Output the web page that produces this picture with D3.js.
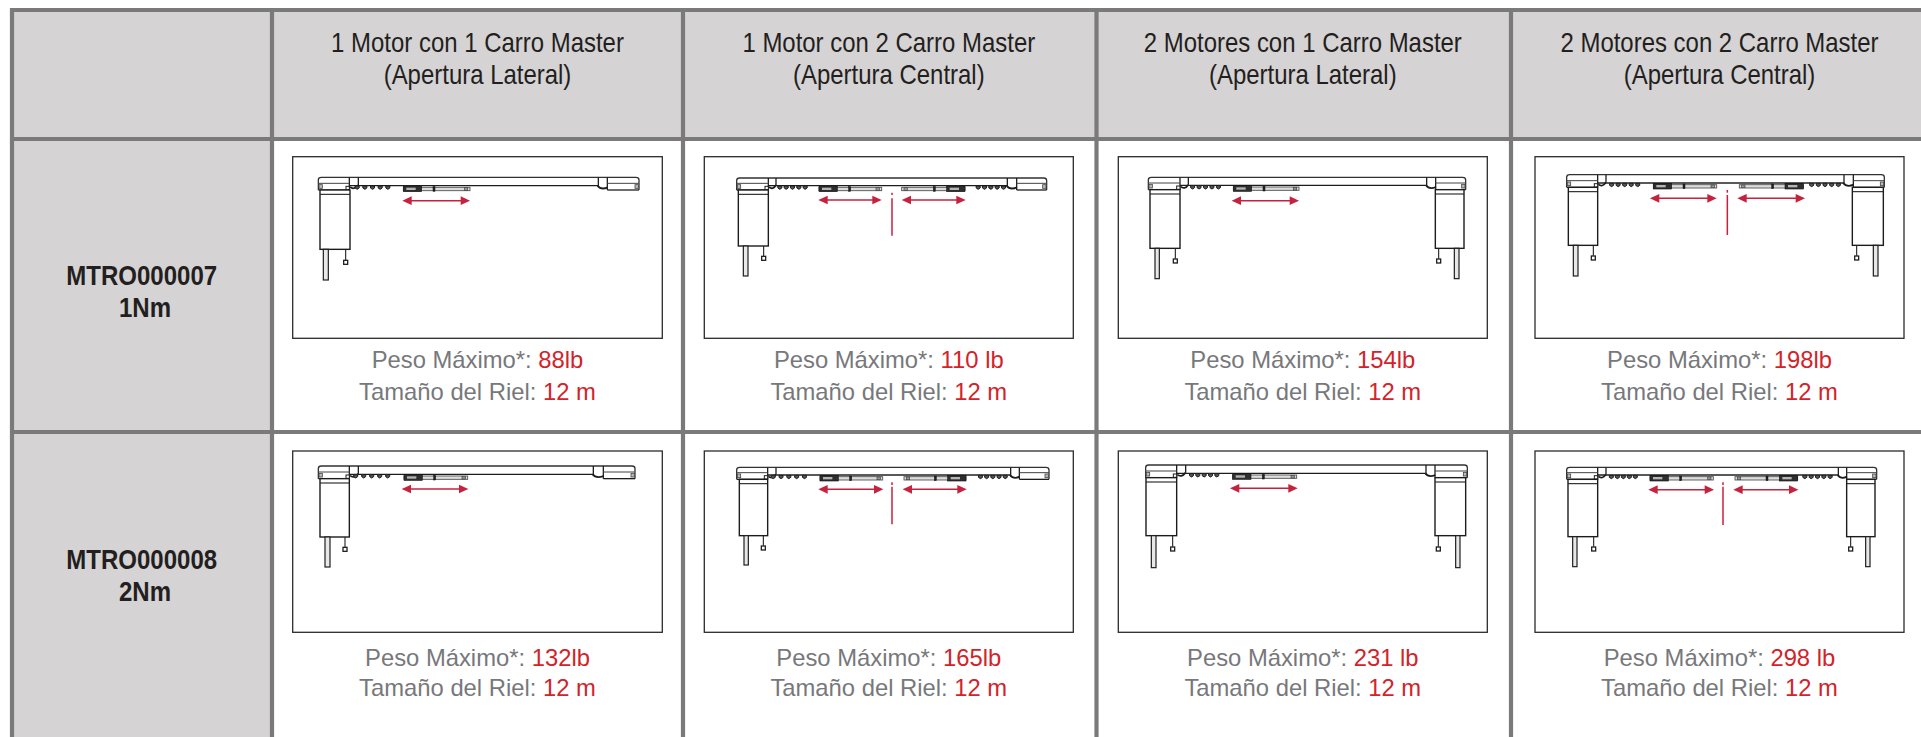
<!DOCTYPE html>
<html lang="es">
<head>
<meta charset="utf-8">
<title>Tabla de motores</title>
<script src="https://cdn.jsdelivr.net/npm/d3@7/dist/d3.min.js"></script>
<style>
html,body{margin:0;padding:0;background:#fff;overflow:hidden}
svg{display:block}
text{font-family:"Liberation Sans",Arial,sans-serif}
</style>
</head>
<body>
<div id="chart"></div>
<script>
// ---- content ----
const columnLine1 = ["1 Motor con 1 Carro Master","1 Motor con 2 Carro Master","2 Motores con 1 Carro Master","2 Motores con 2 Carro Master"];
const columnLine2 = ["(Apertura Lateral)","(Apertura Central)","(Apertura Lateral)","(Apertura Central)"];
const rowCodes = ["MTRO000007","MTRO000008"];
const rowTorque = ["1Nm","2Nm"];
const weightLabel = "Peso Máximo*: ";
const railLabel = "Tamaño del Riel: ";
const weightsRow1 = ["88lb","110 lb","154lb","198lb"];
const weightsRow2 = ["132lb","165lb","231 lb","298 lb"];
const railsRow1 = ["12 m","12 m","12 m","12 m"];
const railsRow2 = ["12 m","12 m","12 m","12 m"];

// ---- layout, separate from the content ----
const W = 1921, H = 737;
const colIdx = d3.range(4), rowIdx = d3.range(2);
const vLine = d3.scaleOrdinal([0,1,2,3,4],[12,272,683,1096.5,1511]);
const hLine = d3.scaleOrdinal([0,1,2],[10,139,432]);
const boxX0 = d3.scaleOrdinal(colIdx,[292.7,704.3,1118.3,1535]);
const boxX1 = d3.scaleOrdinal(colIdx,[662.3,1073.3,1487.3,1904]);
const boxY0 = d3.scaleOrdinal(rowIdx,[156.7,451]);
const boxY1 = d3.scaleOrdinal(rowIdx,[338.3,632.3]);
const base1 = d3.scaleOrdinal(rowIdx,[368,665.5]);
const base2 = d3.scaleOrdinal(rowIdx,[399.6,696.4]);
const labelBase1 = d3.scaleOrdinal(rowIdx,[285,568.5]);
const labelBase2 = d3.scaleOrdinal(rowIdx,[316.5,600.5]);
const zoomOrigin = {x:[290,700,1100,1530], x2:[290,700,1110,1530], y:[150,445]};

// drawing geometry at 3x magnification
const rigs = [
 [ {rail:[85,1047,82,107],ml:[90,180,298],br:[178,205],rh:[925,952],tl:[100,115,390],cl:[167,337],beads:[[190,305]],car:[[340,540,1]],arr:[[337,540]],ay:152},
   {rail:[110,1040,84,107],ml:[115,205,288],br:[205,228],rh:[922,950],tl:[130,144,378],cl:[191,325],beads:[[230,325],[825,920]],car:[[357,545,1],[605,795,-1]],arr:[[355,545],[605,797]],ay:150,c:[576,128,135,145,257]},
   {rail:[145,1097,82,106],ml:[150,240,295],br:[240,265],rh:[980,1007],mr:[1006,1092],tl:[165,178,386],cl:[226,333],tr:[1063,1077],cr:[1016,333],beads:[[268,365]],car:[[400,597,1]],arr:[[395,597]],ay:152},
   {rail:[110,1063,74,99],ml:[115,203,286],br:[203,228],rh:[942,970],mr:[967,1060],tl:[130,144,378],cl:[190,324],tr:[1030,1044],cr:[980,324],beads:[[235,333],[835,935]],car:[[370,560,1],[628,820,-1]],arr:[[360,560],[622,825]],ay:145,c:[592,120,128,135,255]} ],
 [ {rail:[85,1035,63,88],ml:[90,178,276],br:[178,205],rh:[910,940],tl:[105,120,366],cl:[165,313],beads:[[185,305]],car:[[342,533,1]],arr:[[335,535]],ay:132},
   {rail:[110,1047,67,90],ml:[118,203,272],br:[203,228],rh:[932,958],tl:[132,145,360],cl:[190,309],beads:[[208,325],[832,925]],car:[[360,548,1],[612,798,-1]],arr:[[355,550],[608,800]],ay:133,c:[576,112,120,125,238]},
   {rail:[107,1072,60,85],ml:[108,200,272],br:[200,227],rh:[948,975],mr:[975,1067],tl:[124,138,368],cl:[188,312],tr:[1037,1050],cr:[985,312],beads:[[235,330]],car:[[368,560,1]],arr:[[360,563]],ay:130},
   {rail:[110,1040,67,90],ml:[114,203,275],br:[203,228],rh:[925,950],mr:[950,1035],tl:[128,141,365],cl:[191,312],tr:[1007,1020],cr:[962,312],beads:[[235,325],[815,910]],car:[[360,550,1],[615,803,-1]],arr:[[355,552],[610,805]],ay:134,c:[579,112,120,125,240]} ]
];

const INK = "#1f1f1f", RED = "#c5203e", GRID = "#7a7a7a", FILL = "#d5d3d4", GREY = "#77787b", TXTRED = "#d2232a", DARK = "#231f20";

const svg = d3.select("#chart").append("svg").attr("width",W).attr("height",H).attr("viewBox",`0 0 ${W} ${H}`);
svg.append("defs").append("filter").attr("id","soft").attr("filterUnits","userSpaceOnUse").attr("x",0).attr("y",0).attr("width",W).attr("height",H)
   .append("feGaussianBlur").attr("stdDeviation",0.42);
svg.append("rect").attr("width",W).attr("height",H).attr("fill","#fff");

// ---- table fills and rules ----
svg.append("rect").attr("x",vLine(0)).attr("y",hLine(0)).attr("width",W-vLine(0)).attr("height",hLine(1)-hLine(0)).attr("fill",FILL);
svg.append("rect").attr("x",vLine(0)).attr("y",hLine(0)).attr("width",vLine(1)-vLine(0)).attr("height",H-hLine(0)).attr("fill",FILL);
svg.append("g").selectAll("line").data([0,1,2,3,4]).join("line")
   .attr("x1",vLine).attr("x2",vLine).attr("y1",hLine(0)-2).attr("y2",H)
   .attr("stroke",GRID).attr("stroke-width",4.2);
svg.append("g").selectAll("line").data([0,1,2]).join("line")
   .attr("x1",vLine(0)-2).attr("x2",W).attr("y1",hLine).attr("y2",hLine)
   .attr("stroke",GRID).attr("stroke-width",4.2);

// ---- header text: tall, slightly condensed glyphs ----
const colCentre = i => (boxX0(i)+boxX1(i))/2;
const squeeze = (x,y,sx)=>`translate(${x},${y}) scale(${sx},1)`;
const head = svg.append("g").attr("text-anchor","middle").attr("fill",DARK).attr("font-size",27);
head.selectAll("text.a").data(columnLine1).join("text").attr("class","a").attr("transform",(d,i)=>squeeze(colCentre(i),51.9,.887)).text(d=>d);
head.selectAll("text.b").data(columnLine2).join("text").attr("class","b").attr("transform",(d,i)=>squeeze(colCentre(i),84,.887)).text(d=>d);

// ---- row labels ----
const rl = svg.append("g").attr("text-anchor","middle").attr("fill",DARK).attr("font-size",27).attr("font-weight","bold");
rl.selectAll("text.c").data(rowCodes).join("text").attr("class","c").attr("transform",(d,i)=>squeeze(141.7,labelBase1(i),.89)).text(d=>d);
rl.selectAll("text.t").data(rowTorque).join("text").attr("class","t").attr("transform",(d,i)=>squeeze(145,labelBase2(i),.89)).text(d=>d);

// ---- cell captions ----
const captions = (vals,rails,r)=>{
  const g = svg.append("g").attr("text-anchor","middle").attr("font-size",23.8).attr("fill",GREY);
  const a = g.selectAll("text.w").data(vals).join("text").attr("class","w").attr("x",(d,i)=>colCentre(i)).attr("y",base1(r));
  a.append("tspan").text(weightLabel);
  a.append("tspan").attr("fill",TXTRED).text(d=>d);
  const b = g.selectAll("text.r").data(rails).join("text").attr("class","r").attr("x",(d,i)=>colCentre(i)).attr("y",base2(r));
  b.append("tspan").text(railLabel);
  b.append("tspan").attr("fill",TXTRED).text(d=>d);
};
captions(weightsRow1,railsRow1,0);
captions(weightsRow2,railsRow2,1);

// ---- framed diagrams ----
rowIdx.forEach(r=>colIdx.forEach(c=>{
  svg.append("rect").attr("x",boxX0(c)).attr("y",boxY0(r)).attr("width",boxX1(c)-boxX0(c)).attr("height",boxY1(r)-boxY0(r))
     .attr("fill","#fff").attr("stroke","#2b2b2b").attr("stroke-width",1.3);
  const ox = (r===1?zoomOrigin.x2:zoomOrigin.x)[c], oy = zoomOrigin.y[r];
  const x = d3.scaleLinear().domain([0,3]).range([ox,ox+1]);
  const y = d3.scaleLinear().domain([0,3]).range([oy,oy+1]);
  drawRig(svg.append("g").attr("filter","url(#soft)"),rigs[r][c],x,y);
}));

function drawRig(g,k,x,y){
  const [L,R,T,B] = k.rail;
  const line = (a,b,c,d,w=1.3,col=INK)=>g.append("line").attr("x1",x(a)).attr("x2",x(b)).attr("y1",y(c)).attr("y2",y(d)).attr("stroke",col).attr("stroke-width",w);
  const box = (a,b,c,d,fill="#fff",w=1.3,col=INK)=>g.append("rect").attr("x",x(a)).attr("y",y(c)).attr("width",x(b)-x(a)).attr("height",y(d)-y(c)).attr("fill",fill).attr("stroke",col).attr("stroke-width",w);
  const hb = B+13;   // housing bottom
  // rail body with rounded ends
  const p = d3.path();
  p.moveTo(x(L),y(hb)); p.lineTo(x(L),y(T+8)); p.quadraticCurveTo(x(L),y(T),x(L+9),y(T));
  p.lineTo(x(R-9),y(T)); p.quadraticCurveTo(x(R),y(T),x(R),y(T+8)); p.lineTo(x(R),y(hb));
  g.append("path").attr("d",p.toString()).attr("fill","none").attr("stroke","#333").attr("stroke-width",1.3);
  line(k.br[0],k.rh[0],B,B,1.4);
  line(k.br[0],k.br[0],T,hb);
  line(k.br[1],k.br[1],T,B-2);
  line(k.rh[0],k.rh[0],T,B+4);
  line(k.rh[1],k.rh[1],T,hb);
  line(L,k.br[0],B-7,B-7,1,"#444");
  line(k.rh[1],R,B-7,B-7,1,"#444");
  line(L,k.br[0],hb,hb);
  line(k.rh[1],R,hb,hb);
  box(L+2,L+12,B-3,B+8,"#bbb",.8,"#444");
  box(k.br[0]-10,k.br[0],B+2,B+12,"#fff",1);
  g.append("path").attr("d",`M${x(k.br[0]+2)},${y(B+4)}Q${x(k.br[0]+14)},${y(B+14)} ${x(k.br[1])},${y(B-2)}`).attr("fill","none").attr("stroke",INK).attr("stroke-width",1.8);
  box(R-12,R-2,B-3,B+8,"#bbb",.8,"#444");
  g.append("path").attr("d",`M${x(k.rh[0]-2)},${y(B)}Q${x(k.rh[0]+8)},${y(B+14)} ${x(k.rh[1]+1)},${y(B+5)}`).attr("fill","none").attr("stroke",INK).attr("stroke-width",1.8);

  // motors, tubes and cords
  const motor = (a,b,bot)=>{ box(a,b,hb,bot,"#fff",1.4); line(a,b,B+26,B+26,1.1); };
  motor(k.ml[0],k.ml[1],k.ml[2]);
  const tube = (a,b,bot,top)=>box(a,b,top,bot,"#e8e8e8",1.2);
  tube(k.tl[0],k.tl[1],k.tl[2],k.ml[2]);
  line(k.cl[0],k.cl[0],k.ml[2],k.cl[1]-7,1.1);
  box(k.cl[0]-6,k.cl[0]+6,k.cl[1]-6,k.cl[1]+6,"#fff",1.3);
  if(k.mr){
    motor(k.mr[0],k.mr[1],k.ml[2]);
    tube(k.tr[0],k.tr[1],k.tl[2],k.ml[2]);
    line(k.cr[0],k.cr[0],k.ml[2],k.cr[1]-7,1.1);
    box(k.cr[0]-6,k.cr[0]+6,k.cr[1]-6,k.cr[1]+6,"#fff",1.3);
  }

  // runner beads
  k.beads.forEach(([a,b])=>{
    d3.range(5).forEach(i=>{
      const cx = a+ (b-a)*(i+.5)/5;
      g.append("path").attr("d",`M${x(cx-6)},${y(B+1)}V${y(B+7)}Q${x(cx)},${y(B+15)} ${x(cx+6)},${y(B+7)}V${y(B+1)}Z`)
       .attr("fill","#555").attr("stroke",INK).attr("stroke-width",1);
    });
  });

  // master carriages
  k.car.forEach(([a,b,dir])=>{
    const near = dir>0?a:b-55, span = 55;
    box(a,b,B+5,B+15,"#ddd",.9,"#555");
    box(near,near+span,B+1,B+18,"#2e2e2e",.6,"#111");
    g.append("rect").attr("x",x(near+9)).attr("y",y(B+6)).attr("width",x(28)-x(0)).attr("height",y(7)-y(0)).attr("fill","#b5b5b5");
    const tick = dir>0?a+92:b-92;
    box(tick-3,tick+3,B+3,B+17,"#222",.5,"#111");
    const end = dir>0?b-12:a+12;
    box(end-5,end+5,B+6,B+14,"#999",.7,"#444");
  });

  // travel arrows
  k.arr.forEach(([a,b])=>{
    line(a+20,b-20,k.ay,k.ay,1.5,RED);
    g.append("path").attr("fill",RED).attr("d",`M${x(a)},${y(k.ay)}L${x(a+28)},${y(k.ay-13)}V${y(k.ay+13)}Z`);
    g.append("path").attr("fill",RED).attr("d",`M${x(b)},${y(k.ay)}L${x(b-28)},${y(k.ay-13)}V${y(k.ay+13)}Z`);
  });

  // centre mark
  if(k.c){
    line(k.c[0],k.c[0],k.c[1],k.c[2],1.5,RED);
    line(k.c[0],k.c[0],k.c[3],k.c[4],1.5,RED);
  }
}
</script>
</body>
</html>
